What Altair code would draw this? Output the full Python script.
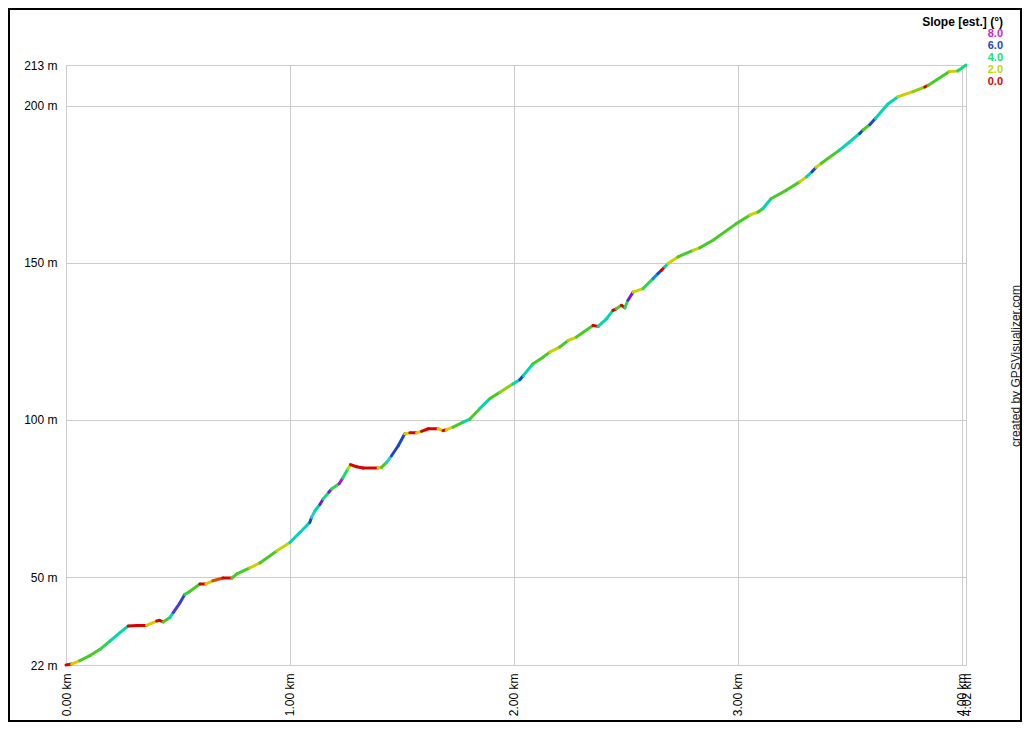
import altair as alt
import pandas as pd

# Profile points
dist_km = [0.000, 0.025, 0.062, 0.107, 0.152, 0.196, 0.241, 0.278, 0.317, 0.360,
           0.405, 0.417, 0.434, 0.464, 0.479, 0.509, 0.531, 0.546, 0.598, 0.625,
           0.656, 0.701, 0.741, 0.763, 0.821, 0.866, 0.941, 1.000, 1.045, 1.089,
           1.097, 1.112, 1.134, 1.148, 1.174, 1.186, 1.220, 1.236, 1.259, 1.271,
           1.298, 1.327, 1.394, 1.409, 1.432, 1.454, 1.484, 1.513, 1.536, 1.566,
           1.588, 1.618, 1.662, 1.684, 1.699, 1.729, 1.774, 1.804, 1.848, 1.893,
           1.938, 1.997, 2.027, 2.042, 2.086, 2.131, 2.161, 2.205, 2.243, 2.280,
           2.354, 2.377, 2.414, 2.443, 2.458, 2.481, 2.496, 2.510, 2.533, 2.577,
           2.622, 2.644, 2.659, 2.674, 2.689, 2.733, 2.801, 2.830, 2.890, 2.994,
           3.054, 3.091, 3.113, 3.150, 3.217, 3.277, 3.307, 3.332, 3.350, 3.374,
           3.455, 3.500, 3.545, 3.560, 3.590, 3.615, 3.670, 3.716, 3.783, 3.836,
           3.850, 3.946, 3.983, 4.020]
elev_m = [22.0, 22.3, 23.4, 25.0, 27.0, 29.6, 32.3, 34.4, 34.6, 34.6,
          36.0, 36.2, 35.7, 37.1, 38.7, 41.8, 44.5, 45.1, 47.8, 47.8,
          48.8, 49.7, 49.7, 51.0, 52.9, 54.5, 58.3, 61.0, 64.2, 67.4,
          69.0, 71.1, 73.1, 74.8, 77.0, 78.0, 79.7, 81.5, 84.4, 85.8,
          85.1, 84.7, 84.7, 84.9, 86.5, 88.6, 91.8, 95.6, 95.9, 95.9,
          96.4, 97.2, 97.2, 96.6, 96.9, 97.7, 99.3, 100.3, 103.6, 106.8,
          108.8, 111.5, 112.8, 114.1, 117.9, 120.0, 121.6, 123.2, 125.3, 126.4,
          130.1, 129.8, 132.2, 134.9, 135.4, 136.5, 135.7, 138.1, 140.7, 141.8,
          145.0, 146.6, 147.6, 148.7, 149.8, 151.9, 154.0, 154.8, 157.2, 162.5,
          165.2, 166.2, 167.3, 170.5, 173.1, 175.8, 177.4, 179.0, 180.4, 181.7,
          185.9, 188.5, 191.2, 192.3, 194.0, 196.0, 200.5, 202.9, 204.5, 206.0,
          206.5, 210.9, 211.1, 213.0]
slope_deg = [0.0, 1.3, 3.0, 3.0, 3.5, 4.5, 4.5, 0.0, 0.0, 1.3,
             0.0, 0.0, 3.0, 4.8, 6.5, 6.2, 3.5, 3.0, 0.0, 1.3,
             0.2, 0.0, 3.0, 3.0, 1.6, 3.0, 2.0, 4.8, 4.8, 6.0,
             5.0, 4.5, 7.0, 4.0, 7.0, 3.5, 7.5, 4.0, 2.0, 0.0,
             0.0, 0.0, 1.3, 3.0, 5.0, 6.0, 6.0, 1.5, 0.0, 1.3,
             0.0, 0.0, 1.3, 0.0, 1.5, 3.0, 4.5, 3.0, 4.5, 3.0,
             2.5, 4.5, 6.0, 4.5, 3.0, 3.0, 1.8, 3.0, 1.8, 3.0,
             0.0, 4.5, 4.5, 0.0, 3.0, 0.0, 3.5, 7.0, 1.8, 3.5,
             5.5, 6.0, 0.0, 4.5, 1.8, 3.0, 1.8, 3.0, 3.0, 3.0,
             1.8, 3.0, 4.5, 3.0, 3.0, 1.8, 4.5, 6.0, 1.8, 3.0,
             4.5, 4.5, 6.0, 3.0, 6.0, 4.5, 4.5, 1.5, 2.5, 0.0,
             3.0, 1.5, 4.0, 4.0]

x_ticks = [0.0, 1.0, 2.0, 3.0, 4.0, 4.02]
y_ticks = [22, 50, 100, 150, 200, 213]
legend_vals = [8.0, 6.0, 4.0, 2.0, 0.0]
legend_title = "Slope [est.] (°)"
credit = "created by GPSVisualizer.com"

slope_domain = [0, 1, 2, 3, 4, 5, 6, 7, 8]
slope_colors = ["#dd0000", "#e6c000", "#bcd800", "#44cc22", "#11dd77",
                "#22cccc", "#1d44cc", "#7a18dd", "#d324cc"]

segs = pd.DataFrame({
    "d0": dist_km[:-1], "e0": elev_m[:-1],
    "d1": dist_km[1:], "e1": elev_m[1:],
    "s": slope_deg[:-1],
})

FONT = "Liberation Sans"
W, H = 900, 600
color_scale = alt.Scale(domain=slope_domain, range=slope_colors, clamp=True)

x_scale = alt.Scale(domain=[0, 4.02], nice=False, zero=False)
y_scale = alt.Scale(domain=[22, 213], nice=False, zero=False)

profile = alt.Chart(segs).mark_rule(strokeWidth=3, strokeCap="round").encode(
    x=alt.X("d0:Q", scale=x_scale, title=None,
            axis=alt.Axis(values=x_ticks, labelExpr="format(datum.value, '.2f') + ' km'",
                          labelAngle=270, labelOverlap=False, ticks=False, domain=False,
                          gridColor="#cccccc", labelPadding=8, labelFont=FONT,
                          labelFontSize=12, labelColor="#000000", labelFlush=False)),
    x2="d1:Q",
    y=alt.Y("e0:Q", scale=y_scale, title=None,
            axis=alt.Axis(values=y_ticks, labelExpr="datum.value + ' m'",
                          labelOverlap=False, ticks=False, domain=False,
                          gridColor="#cccccc", labelPadding=9, labelFont=FONT,
                          labelFontSize=12, labelColor="#000000", labelFlush=False)),
    y2="e1:Q",
    color=alt.Color("s:Q", scale=color_scale, legend=None),
)

layers = [profile]

title_mark = alt.Chart(pd.DataFrame({"t": [legend_title]})).mark_text(
    align="right", baseline="middle", font=FONT, fontSize=12, fontWeight="bold",
    color="#000000").encode(text="t:N", x=alt.value(937), y=alt.value(-43))
layers.append(title_mark)

for i, v in enumerate(legend_vals):
    lm = alt.Chart(pd.DataFrame({"s": [v], "lab": [f"{v:.1f}"]})).mark_text(
        align="right", baseline="middle", font=FONT, fontSize=11, fontWeight="bold"
    ).encode(text="lab:N", color=alt.Color("s:Q", scale=color_scale, legend=None),
             x=alt.value(937), y=alt.value(-30.7 + i * 11.8))
    layers.append(lm)

credit_mark = alt.Chart(pd.DataFrame({"t": [credit]})).mark_text(
    align="center", baseline="middle", angle=270, font=FONT, fontSize=12,
    color="#222222").encode(text="t:N", x=alt.value(950), y=alt.value(301))
layers.append(credit_mark)

frame = alt.Chart(pd.DataFrame({"a": [0]})).mark_rect(
    filled=False, stroke="#000000", strokeWidth=2).encode(
    x=alt.value(-57), x2=alt.value(955), y=alt.value(-56), y2=alt.value(656))
layers.append(frame)

chart = alt.layer(*layers).properties(
    width=W, height=H,
    autosize=alt.AutoSizeParams(type="none"),
    padding={"left": 58, "top": 57, "right": 56, "bottom": 57},
    background="#ffffff",
).configure_view(strokeWidth=0)

chart.save("out.html", embed_options={"renderer": "svg", "actions": False})
